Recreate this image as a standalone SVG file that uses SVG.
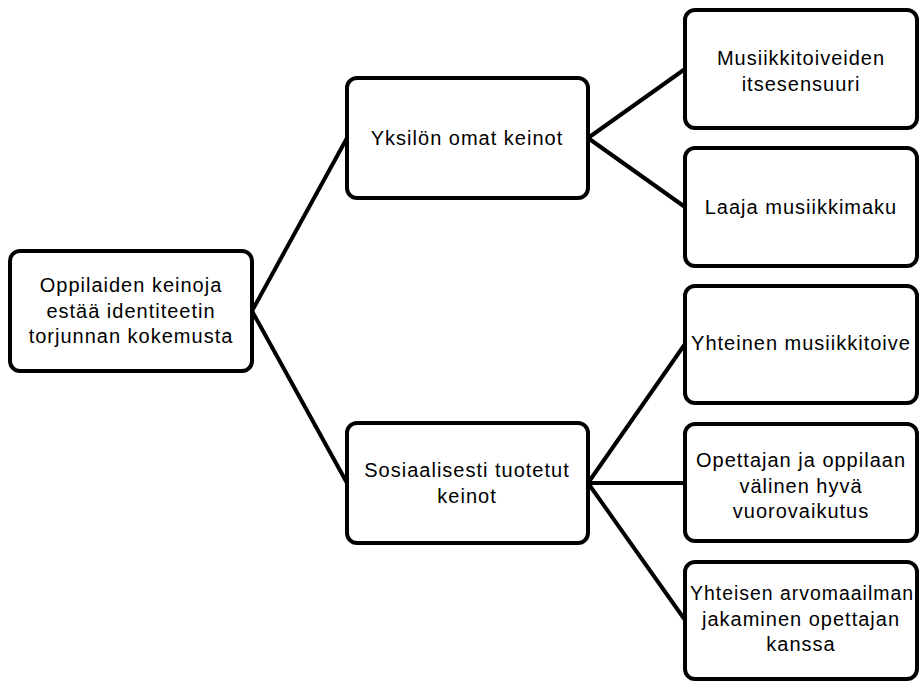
<svg xmlns="http://www.w3.org/2000/svg" width="920" height="682" viewBox="0 0 920 682">
<style>
.box{fill:#fff;stroke:#000;stroke-width:4}
.lbl{font-family:"Liberation Sans",Arial,sans-serif;font-size:20px;letter-spacing:1px;fill:#000;text-anchor:middle}
.con{stroke:#000;stroke-width:4;fill:none}
</style>
<rect width="920" height="682" fill="#fff"/>
<g id="connectors">
<line class="con" x1="252" y1="311" x2="347" y2="138"/>
<line class="con" x1="252" y1="311" x2="347" y2="483"/>
<line class="con" x1="588" y1="138" x2="685" y2="69"/>
<line class="con" x1="588" y1="138" x2="685" y2="207"/>
<line class="con" x1="588" y1="483" x2="685" y2="344"/>
<line class="con" x1="588" y1="483" x2="685" y2="483"/>
<line class="con" x1="588" y1="483" x2="685" y2="620"/>
</g>
<g id="root">
<rect class="box" x="10" y="251" width="242" height="120" rx="10"/>
<text class="lbl" x="131" y="292">Oppilaiden keinoja</text>
<text class="lbl" x="131" y="317.5">estää identiteetin</text>
<text class="lbl" x="131" y="343">torjunnan kokemusta</text>
</g>
<g id="yksilon">
<rect class="box" x="347" y="78" width="241" height="120" rx="10"/>
<text class="lbl" x="467" y="145">Yksilön omat keinot</text>
</g>
<g id="sosiaalisesti">
<rect class="box" x="347" y="423" width="241" height="120" rx="10"/>
<text class="lbl" x="467" y="477">Sosiaalisesti tuotetut</text>
<text class="lbl" x="467" y="503">keinot</text>
</g>
<g id="itsesensuuri">
<rect class="box" x="685" y="10" width="232" height="118" rx="10"/>
<text class="lbl" x="801" y="65">Musiikkitoiveiden</text>
<text class="lbl" x="801" y="90.5">itsesensuuri</text>
</g>
<g id="musiikkimaku">
<rect class="box" x="685" y="148" width="232" height="118" rx="10"/>
<text class="lbl" x="801" y="214">Laaja musiikkimaku</text>
</g>
<g id="musiikkitoive">
<rect class="box" x="685" y="286" width="232" height="117" rx="10"/>
<text class="lbl" x="801" y="350">Yhteinen musiikkitoive</text>
</g>
<g id="vuorovaikutus">
<rect class="box" x="685" y="424" width="232" height="117" rx="10"/>
<text class="lbl" x="801" y="467">Opettajan ja oppilaan</text>
<text class="lbl" x="801" y="492.5">välinen hyvä</text>
<text class="lbl" x="801" y="518">vuorovaikutus</text>
</g>
<g id="arvomaailma">
<rect class="box" x="685" y="562" width="232" height="117" rx="10"/>
<text class="lbl" x="802" y="600" textLength="224" lengthAdjust="spacingAndGlyphs">Yhteisen arvomaailman</text>
<text class="lbl" x="801" y="625.5">jakaminen opettajan</text>
<text class="lbl" x="801" y="651">kanssa</text>
</g>
</svg>
